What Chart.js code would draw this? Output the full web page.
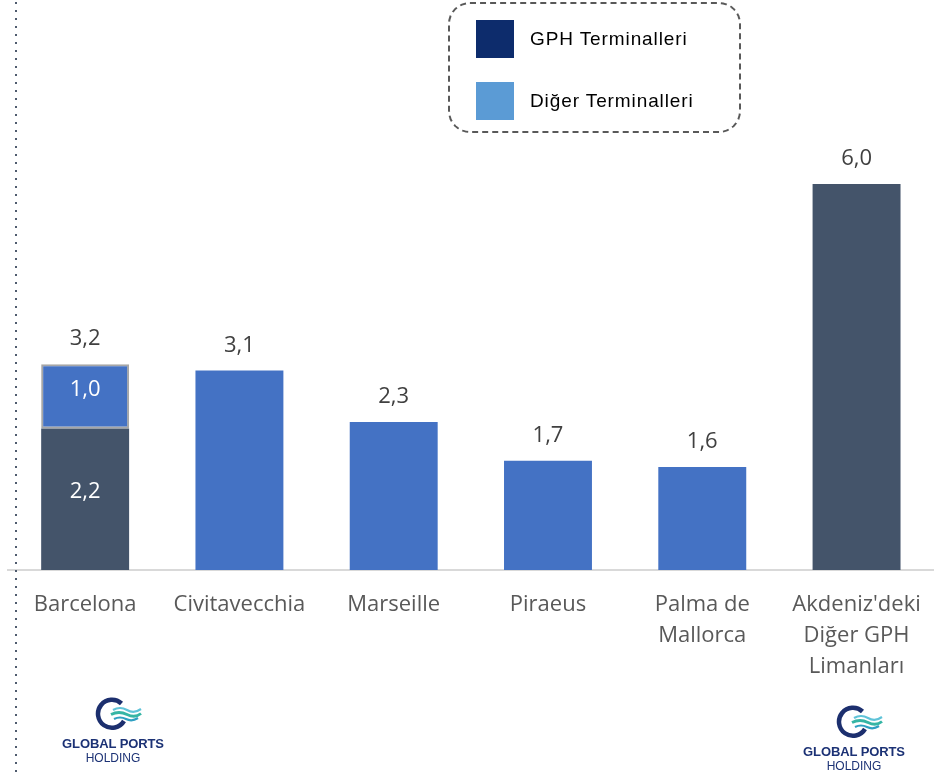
<!DOCTYPE html>
<html>
<head>
<meta charset="utf-8">
<script src="https://cdn.jsdelivr.net/npm/chart.js@4.4.1/dist/chart.umd.min.js"></script>
<style>
  html, body { margin: 0; padding: 0; background: #fff; }
  #wrap { position: relative; width: 936px; height: 776px; overflow: hidden; }
  #chart { position: absolute; left: 0; top: 0; }
  .dots { position: absolute; left: 15px; top: 2px; width: 2px; height: 776px;
    background: repeating-linear-gradient(to bottom, #4f5b6e 0 2px, transparent 2px 8px); }
  .legend { position: absolute; left: 448px; top: 2px; width: 289px; height: 127px;
    border: 2px dashed #595959; border-radius: 22px; font-family: "Liberation Sans", Arial, sans-serif;
    font-size: 19px; letter-spacing: 0.9px; color: #000; }
  .legend .item { position: absolute; left: 26px; display: flex; align-items: center; }
  .legend .sw { width: 38px; height: 38px; margin-right: 16px; }
  .logo { position: absolute; width: 112px; text-align: center; font-family: "Liberation Sans", Arial, sans-serif; color: #1c3275; }
  .logo svg { display: block; margin: 0 0 0 38px; }
  .logo .t1 { font-weight: bold; font-size: 13px; letter-spacing: -0.1px; line-height: 14px; margin-top: 6px; }
  .logo .t2 { font-size: 12px; line-height: 14px; }
</style>
</head>
<body>
<div id="wrap">
  <canvas id="chart" width="940" height="776"></canvas>
  <div class="dots"></div>
  <div class="legend">
    <div class="item" style="top:16px"><span class="sw" style="background:#0D2C6C"></span>GPH Terminalleri</div>
    <div class="item" style="top:78px"><span class="sw" style="background:#5B9BD5"></span>Diğer Terminalleri</div>
  </div>
  <div class="logo" style="left:57px; top:697px">
    <svg width="48" height="34" viewBox="0 0 48 34">
      <path d="M26.5 6.5 A14 14 0 1 0 29 24" fill="none" stroke="#1c2f6e" stroke-width="4.5"/>
      <path d="M18 13 q7 -4 14 0 t14 -1" fill="none" stroke="#5fc3d8" stroke-width="2.2"/>
      <path d="M16 17.5 q8 -4 16 0 t14 -1" fill="none" stroke="#35b5a5" stroke-width="2.8"/>
      <path d="M19 22 q6 -3 12 0 t12 -1" fill="none" stroke="#2e9fc2" stroke-width="2.2"/>
    </svg>
    <div class="t1">GLOBAL PORTS</div>
    <div class="t2">HOLDING</div>
  </div>
  <div class="logo" style="left:798px; top:705px">
    <svg width="48" height="34" viewBox="0 0 48 34">
      <path d="M26.5 6.5 A14 14 0 1 0 29 24" fill="none" stroke="#1c2f6e" stroke-width="4.5"/>
      <path d="M18 13 q7 -4 14 0 t14 -1" fill="none" stroke="#5fc3d8" stroke-width="2.2"/>
      <path d="M16 17.5 q8 -4 16 0 t14 -1" fill="none" stroke="#35b5a5" stroke-width="2.8"/>
      <path d="M19 22 q6 -3 12 0 t12 -1" fill="none" stroke="#2e9fc2" stroke-width="2.2"/>
    </svg>
    <div class="t1">GLOBAL PORTS</div>
    <div class="t2">HOLDING</div>
  </div>
</div>
<script>
const categories = ['Barcelona', 'Civitavecchia', 'Marseille', 'Piraeus', ['Palma de', 'Mallorca'], ["Akdeniz'deki", 'Diğer GPH', 'Limanları']];
const gphValues = [2.2, null, null, null, null, 6.0];
const otherValues = [1.0, 3.1, 2.3, 1.7, 1.6, null];
const yMax = 6.0;

const labelFont = '"Open Sans", sans-serif';
const fmt = v => v.toFixed(1).replace('.', ',');

// value labels drawn from the bar elements
const valueLabels = {
  id: 'valueLabels',
  afterDatasetsDraw(chart) {
    const c = chart.ctx;
    const m0 = chart.getDatasetMeta(0), m1 = chart.getDatasetMeta(1);
    c.save();
    c.font = '22px ' + labelFont;
    c.textAlign = 'center';
    c.textBaseline = 'middle';
    categories.forEach((_, i) => {
      const a = gphValues[i], b = otherValues[i];
      const stacked = a != null && b != null;
      if (stacked) {
        [[m0.data[i], a], [m1.data[i], b]].forEach(([el, v]) => {
          c.fillStyle = '#ffffff';
          c.fillText(fmt(v), el.x, (el.y + el.base) / 2 - 7);
        });
      }
      const top = b != null ? m1.data[i] : m0.data[i];
      c.fillStyle = '#404040';
      c.fillText(fmt((a || 0) + (b || 0)), top.x, top.y - 25);
    });
    c.restore();
  }
};

new Chart(document.getElementById('chart'), {
  type: 'bar',
  data: {
    labels: categories,
    datasets: [
      {
        label: 'GPH Terminalleri',
        data: gphValues,
        backgroundColor: '#44546A',
        borderWidth: 0
      },
      {
        label: 'Diğer Terminalleri',
        data: otherValues,
        backgroundColor: '#4472C4',
        borderColor: ['#A6A6A6', '#4472C4', '#4472C4', '#4472C4', '#4472C4', '#4472C4'],
        borderWidth: [2, 0, 0, 0, 0, 0],
        borderSkipped: false
      }
    ]
  },
  options: {
    responsive: false,
    animation: false,
    layout: { padding: { top: 184, left: 8, right: 3, bottom: 0 } },
    categoryPercentage: 1,
    barPercentage: 0.57,
    plugins: { legend: { display: false }, tooltip: { enabled: false } },
    scales: {
      x: {
        stacked: true,
        grid: { display: false, drawTicks: false },
        border: { display: true, color: '#D9D9D9', width: 2 },
        ticks: {
          color: '#595959',
          padding: 19,
          font: { family: labelFont, size: 22, lineHeight: 1.42 },
          maxRotation: 0,
          autoSkip: false
        },
        afterFit(s) { s.height = 206; }
      },
      y: {
        stacked: true,
        display: false,
        min: 0,
        max: yMax
      }
    }
  },
  plugins: [valueLabels]
});
</script>
</body>
</html>
